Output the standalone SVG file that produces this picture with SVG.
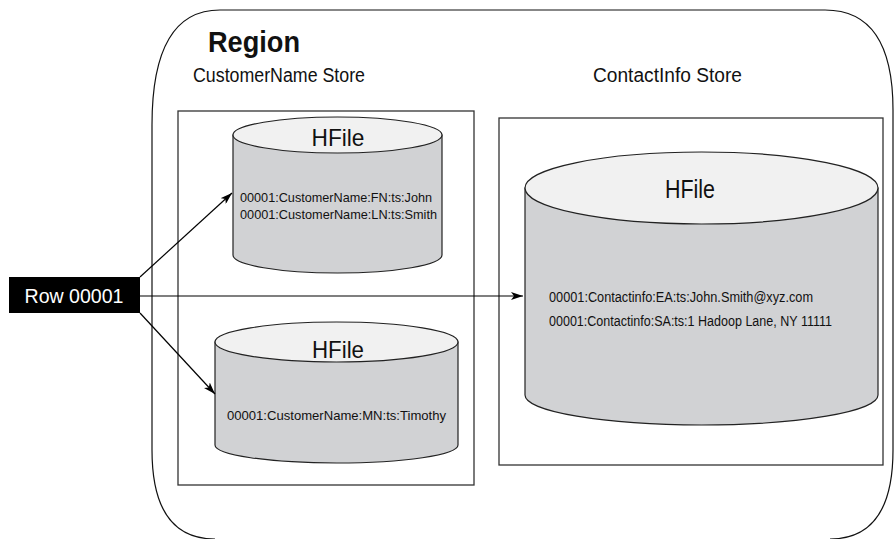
<svg xmlns="http://www.w3.org/2000/svg" width="896" height="539" viewBox="0 0 896 539">
<defs>
<style>
.t{font-family:"Liberation Sans",Arial,sans-serif;fill:#111}
.box{fill:#fff;stroke:#333;stroke-width:1.3}
.body{fill:#d1d2d4;stroke:#222;stroke-width:1.2}
.top{fill:#f1f1f1;stroke:#222;stroke-width:1.2}
.con{stroke:#000;stroke-width:1.2;fill:none;marker-end:url(#ah)}
</style>
<marker id="ah" viewBox="0 0 12 8" refX="12" refY="4" markerWidth="12" markerHeight="8" markerUnits="userSpaceOnUse" orient="auto">
<path d="M0,0 L12,4 L0,8 L3,4 Z" fill="#000"/>
</marker>
</defs>
<rect width="896" height="539" fill="#fff"/>
<g id="region">
<path d="M215,539 Q152,539 152,450 L152,125 Q152,10 220,10 L825,10 Q893,10 893,110 L893,450 Q893,539 830,539" fill="none" stroke="#111" stroke-width="1.2"/>
<text class="t" x="208" y="52" font-size="29" font-weight="bold" textLength="92" lengthAdjust="spacingAndGlyphs">Region</text>
</g>
<g id="customername-store">
<rect class="box" x="178" y="111" width="296" height="374"/>
<text class="t" x="193" y="82" font-size="20" textLength="172" lengthAdjust="spacingAndGlyphs">CustomerName Store</text>
</g>
<g id="contactinfo-store">
<rect class="box" x="499" y="118" width="384" height="347"/>
<text class="t" x="593" y="82" font-size="20" textLength="149" lengthAdjust="spacingAndGlyphs">ContactInfo Store</text>
</g>
<g id="hfile1">
<path class="body" d="M233,135 L233,255 A104.5,18 0 0 0 442,255 L442,135 Z"/>
<ellipse class="top" cx="337.5" cy="135" rx="104.5" ry="18"/>
<text class="t" x="338" y="146" font-size="24" text-anchor="middle" textLength="53" lengthAdjust="spacingAndGlyphs">HFile</text>
<text class="t" x="240" y="202" font-size="13.5" textLength="192" lengthAdjust="spacingAndGlyphs">00001:CustomerName:FN:ts:John</text>
<text class="t" x="240" y="219" font-size="13.5" textLength="197" lengthAdjust="spacingAndGlyphs">00001:CustomerName:LN:ts:Smith</text>
</g>
<g id="hfile2">
<path class="body" d="M215,342 L215,445 A121.5,18 0 0 0 458,445 L458,342 Z"/>
<ellipse class="top" cx="336.5" cy="342" rx="121.5" ry="20"/>
<text class="t" x="338" y="358" font-size="24" text-anchor="middle" textLength="52" lengthAdjust="spacingAndGlyphs">HFile</text>
<text class="t" x="227" y="420" font-size="13.5" textLength="219" lengthAdjust="spacingAndGlyphs">00001:CustomerName:MN:ts:Timothy</text>
</g>
<g id="hfile3">
<path class="body" d="M525,188 L525,395 A176.5,30 0 0 0 878,395 L878,188 Z"/>
<ellipse class="top" cx="701.5" cy="188" rx="176.5" ry="36"/>
<text class="t" x="690" y="198" font-size="25" text-anchor="middle" textLength="50" lengthAdjust="spacingAndGlyphs">HFile</text>
<text class="t" x="549" y="302" font-size="14" textLength="264" lengthAdjust="spacingAndGlyphs">00001:Contactinfo:EA:ts:John.Smith@xyz.com</text>
<text class="t" x="549" y="326" font-size="14" textLength="283" lengthAdjust="spacingAndGlyphs">00001:Contactinfo:SA:ts:1 Hadoop Lane, NY 11111</text>
</g>
<g id="row">
<rect x="9" y="277" width="131" height="36" fill="#000"/>
<text x="74" y="303" font-size="21" text-anchor="middle" font-family="Liberation Sans,Arial,sans-serif" fill="#fff" textLength="99" lengthAdjust="spacingAndGlyphs">Row 00001</text>
</g>
<g id="connectors">
<line class="con" x1="140" y1="277" x2="232" y2="193"/>
<line class="con" x1="140" y1="296" x2="523" y2="296"/>
<line class="con" x1="140" y1="313" x2="215" y2="394"/>
</g>
</svg>
